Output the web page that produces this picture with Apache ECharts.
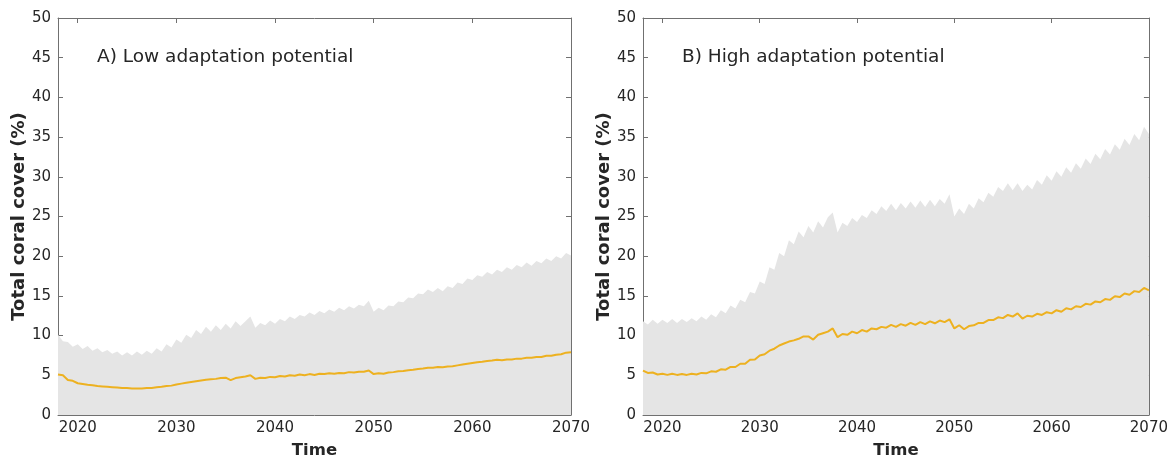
<!DOCTYPE html>
<html>
<head>
<meta charset="utf-8">
<script src="https://cdn.jsdelivr.net/npm/echarts@6/dist/echarts.min.js"></script>
<style>
  html, body { margin: 0; padding: 0; background: #ffffff; }
  #chart { width: 1171px; height: 464px; }
</style>
</head>
<body>
<div id="chart"></div>
<script>
// Time steps (half-yearly), 2018 to 2070
const years = [
  2018, 2018.5, 2019, 2019.5, 2020, 2020.5, 2021, 2021.5, 2022, 2022.5,
  2023, 2023.5, 2024, 2024.5, 2025, 2025.5, 2026, 2026.5, 2027, 2027.5,
  2028, 2028.5, 2029, 2029.5, 2030, 2030.5, 2031, 2031.5, 2032, 2032.5,
  2033, 2033.5, 2034, 2034.5, 2035, 2035.5, 2036, 2036.5, 2037, 2037.5,
  2038, 2038.5, 2039, 2039.5, 2040, 2040.5, 2041, 2041.5, 2042, 2042.5,
  2043, 2043.5, 2044, 2044.5, 2045, 2045.5, 2046, 2046.5, 2047, 2047.5,
  2048, 2048.5, 2049, 2049.5, 2050, 2050.5, 2051, 2051.5, 2052, 2052.5,
  2053, 2053.5, 2054, 2054.5, 2055, 2055.5, 2056, 2056.5, 2057, 2057.5,
  2058, 2058.5, 2059, 2059.5, 2060, 2060.5, 2061, 2061.5, 2062, 2062.5,
  2063, 2063.5, 2064, 2064.5, 2065, 2065.5, 2066, 2066.5, 2067, 2067.5,
  2068, 2068.5, 2069, 2069.5, 2070
];

// A) Low adaptation potential: upper bound of the range and mean cover (%)
const lowUpper = [
  10.1, 9.3, 9.2, 8.6, 8.9, 8.3, 8.7, 8.1, 8.4, 7.9,
  8.2, 7.7, 8.0, 7.5, 7.9, 7.5, 8.0, 7.6, 8.1, 7.7,
  8.4, 8.0, 8.9, 8.5, 9.5, 9.1, 10.1, 9.7, 10.7, 10.2,
  11.1, 10.5, 11.3, 10.7, 11.5, 10.9, 11.8, 11.2, 11.8, 12.4,
  11.0, 11.6, 11.3, 11.9, 11.5, 12.1, 11.8, 12.4, 12.1, 12.6,
  12.4, 12.9, 12.6, 13.1, 12.8, 13.3, 13.0, 13.5, 13.2, 13.7,
  13.4, 13.9, 13.7, 14.4, 13.0, 13.5, 13.2, 13.8, 13.7, 14.3,
  14.2, 14.8, 14.7, 15.3, 15.2, 15.8, 15.5, 16.0, 15.6, 16.2,
  16.0, 16.7, 16.5, 17.2, 17.0, 17.6, 17.4, 18.0, 17.7, 18.3,
  18.0, 18.6, 18.3, 18.9, 18.6, 19.2, 18.8, 19.4, 19.1, 19.7,
  19.4, 20.0, 19.7, 20.4, 20.1
];
const lowMean = [
  5.1, 5.0, 4.4, 4.3, 4.0, 3.9, 3.8, 3.75, 3.65, 3.6,
  3.55, 3.5, 3.45, 3.4, 3.4, 3.35, 3.35, 3.35, 3.4, 3.4,
  3.5, 3.55, 3.65, 3.7, 3.85, 3.95, 4.05, 4.15, 4.25, 4.35,
  4.45, 4.5, 4.55, 4.65, 4.7, 4.4, 4.65, 4.75, 4.85, 5.0,
  4.55, 4.7, 4.65, 4.8, 4.75, 4.9, 4.85, 5.0, 4.95, 5.1,
  5.0, 5.15, 5.05, 5.2, 5.15, 5.25, 5.2, 5.3, 5.25, 5.4,
  5.35, 5.45, 5.45, 5.6, 5.15, 5.25, 5.2, 5.35, 5.4, 5.5,
  5.55, 5.65, 5.7, 5.8, 5.85, 5.95, 5.95, 6.05, 6.0, 6.1,
  6.15, 6.25, 6.35, 6.45, 6.55, 6.65, 6.7, 6.8, 6.85, 6.95,
  6.9, 7.0, 7.0, 7.1, 7.1, 7.2, 7.2, 7.3, 7.3, 7.45,
  7.45, 7.6, 7.65, 7.85, 7.9
];

// B) High adaptation potential: upper bound of the range and mean cover (%)
const highUpper = [
  11.8, 11.4, 12.0, 11.5, 12.0, 11.6, 12.1, 11.6, 12.1, 11.7,
  12.2, 11.8, 12.4, 12.0, 12.7, 12.3, 13.2, 12.8, 13.8, 13.4,
  14.5, 14.2, 15.5, 15.3, 16.8, 16.5, 18.6, 18.3, 20.4, 20.0,
  22.0, 21.5, 23.1, 22.4, 23.8, 23.0, 24.4, 23.6, 24.9, 25.5,
  23.0, 24.2, 23.8, 24.8, 24.3, 25.2, 24.8, 25.8, 25.3, 26.3,
  25.7, 26.6, 25.8, 26.7, 26.0, 26.9, 26.1, 27.0, 26.2, 27.1,
  26.3, 27.2, 26.6, 27.8, 25.0, 26.0, 25.3, 26.6, 26.0, 27.3,
  26.8, 28.0, 27.5, 28.7, 28.2, 29.2, 28.3, 29.2, 28.2, 29.0,
  28.4, 29.6, 29.0, 30.2, 29.5, 30.7, 30.0, 31.2, 30.5, 31.7,
  31.0, 32.3, 31.6, 32.9, 32.2, 33.5, 32.8, 34.1, 33.4, 34.8,
  34.0, 35.4, 34.6, 36.3, 35.4
];
const highMean = [
  5.6, 5.3, 5.35, 5.1, 5.2, 5.05, 5.2, 5.05, 5.15, 5.05,
  5.2, 5.1, 5.3, 5.25, 5.5, 5.45, 5.75, 5.7, 6.05, 6.05,
  6.45, 6.45, 6.95, 7.0, 7.5, 7.65, 8.1, 8.35, 8.75, 9.0,
  9.25, 9.4, 9.6, 9.9, 9.9, 9.5, 10.1, 10.3, 10.5, 10.9,
  9.8, 10.2, 10.1, 10.5, 10.3, 10.7, 10.5, 10.9, 10.8, 11.1,
  11.0, 11.35, 11.1, 11.45, 11.25, 11.6, 11.35, 11.7, 11.45, 11.8,
  11.55, 11.9, 11.7, 12.05, 10.9, 11.3, 10.8, 11.2, 11.3, 11.6,
  11.6, 11.95, 11.95, 12.3, 12.2, 12.6, 12.4, 12.8, 12.15, 12.5,
  12.4, 12.75, 12.6, 12.95, 12.8, 13.2, 13.0, 13.45, 13.3, 13.7,
  13.6, 14.0, 13.9, 14.3, 14.2, 14.6, 14.5, 14.95, 14.85, 15.3,
  15.15, 15.6, 15.5, 16.0, 15.7
];

// Tick positions and panel labels
const xTicks = [2020, 2030, 2040, 2050, 2060, 2070];
const panelTitles = ['A) Low adaptation potential', 'B) High adaptation potential'];
const xName = 'Time';
const yName = 'Total coral cover (%)';

const FONT = 'DejaVu Sans';
const TEXT = '#262626';
const AXIS = '#707070';
const BAND = '#e5e5e5';
const MEAN = '#edb120';

const pairs = (vals) => vals.map((v, i) => [years[i], v]);

const grids = [
  { left: 58, right: 600, top: 18, bottom: 47 },
  { left: 643, right: 22, top: 18, bottom: 47 }
];

const xAxes = [];
const yAxes = [];
grids.forEach((g, gi) => {
  // bottom axis with labels
  xAxes.push({
    type: 'value', gridIndex: gi, min: 2018, max: 2070, position: 'bottom',
    name: xName, nameLocation: 'middle', nameGap: 27,
    nameTextStyle: { fontFamily: FONT, fontSize: 16.5, fontWeight: 'bold', color: TEXT },
    axisLine: { show: true, onZero: false, lineStyle: { color: AXIS, width: 1 } },
    axisTick: { show: true, inside: true, length: 5, customValues: xTicks, lineStyle: { color: AXIS } },
    axisLabel: { show: true, customValues: xTicks, margin: 6, fontFamily: FONT, fontSize: 15,
      color: TEXT, formatter: (v) => String(v) },
    splitLine: { show: false }
  });
  // top frame axis
  xAxes.push({
    type: 'value', gridIndex: gi, min: 2018, max: 2070, position: 'top',
    axisLine: { show: true, onZero: false, lineStyle: { color: AXIS, width: 1 } },
    axisTick: { show: true, inside: true, length: 5, customValues: xTicks, lineStyle: { color: AXIS } },
    axisLabel: { show: false },
    splitLine: { show: false }
  });
  // left axis with labels
  yAxes.push({
    type: 'value', gridIndex: gi, min: 0, max: 50, interval: 5, position: 'left',
    name: yName, nameLocation: 'middle', nameGap: 30, nameRotate: 90,
    nameTextStyle: { fontFamily: FONT, fontSize: 18, fontWeight: 'bold', color: TEXT },
    axisLine: { show: true, onZero: false, lineStyle: { color: AXIS, width: 1 } },
    axisTick: { show: true, inside: true, length: 5, lineStyle: { color: AXIS } },
    axisLabel: { show: true, margin: 7, fontFamily: FONT, fontSize: 15, color: TEXT },
    splitLine: { show: false }
  });
  // right frame axis
  yAxes.push({
    type: 'value', gridIndex: gi, min: 0, max: 50, interval: 5, position: 'right',
    axisLine: { show: true, onZero: false, lineStyle: { color: AXIS, width: 1 } },
    axisTick: { show: true, inside: true, length: 5, lineStyle: { color: AXIS } },
    axisLabel: { show: false },
    splitLine: { show: false }
  });
});

function bandSeries(gi, vals) {
  return {
    type: 'line', xAxisIndex: gi * 2, yAxisIndex: gi * 2,
    data: pairs(vals), showSymbol: false, silent: true,
    lineStyle: { width: 0, color: BAND },
    areaStyle: { color: BAND, opacity: 1, origin: 'start' },
    z: 1
  };
}
function meanSeries(gi, vals) {
  return {
    type: 'line', xAxisIndex: gi * 2, yAxisIndex: gi * 2,
    data: pairs(vals), showSymbol: false, silent: true,
    lineStyle: { width: 2, color: MEAN },
    z: 3
  };
}

const chart = echarts.init(document.getElementById('chart'), null, { renderer: 'canvas' });
chart.setOption({
  animation: false,
  backgroundColor: '#ffffff',
  title: [
    { text: panelTitles[0], left: 92, top: 43,
      textStyle: { fontFamily: FONT, fontSize: 18.5, fontWeight: 'normal', color: TEXT } },
    { text: panelTitles[1], left: 677, top: 43,
      textStyle: { fontFamily: FONT, fontSize: 18.5, fontWeight: 'normal', color: TEXT } }
  ],
  grid: grids,
  xAxis: xAxes,
  yAxis: yAxes,
  series: [
    bandSeries(0, lowUpper),
    meanSeries(0, lowMean),
    bandSeries(1, highUpper),
    meanSeries(1, highMean)
  ]
});
</script>
</body>
</html>
